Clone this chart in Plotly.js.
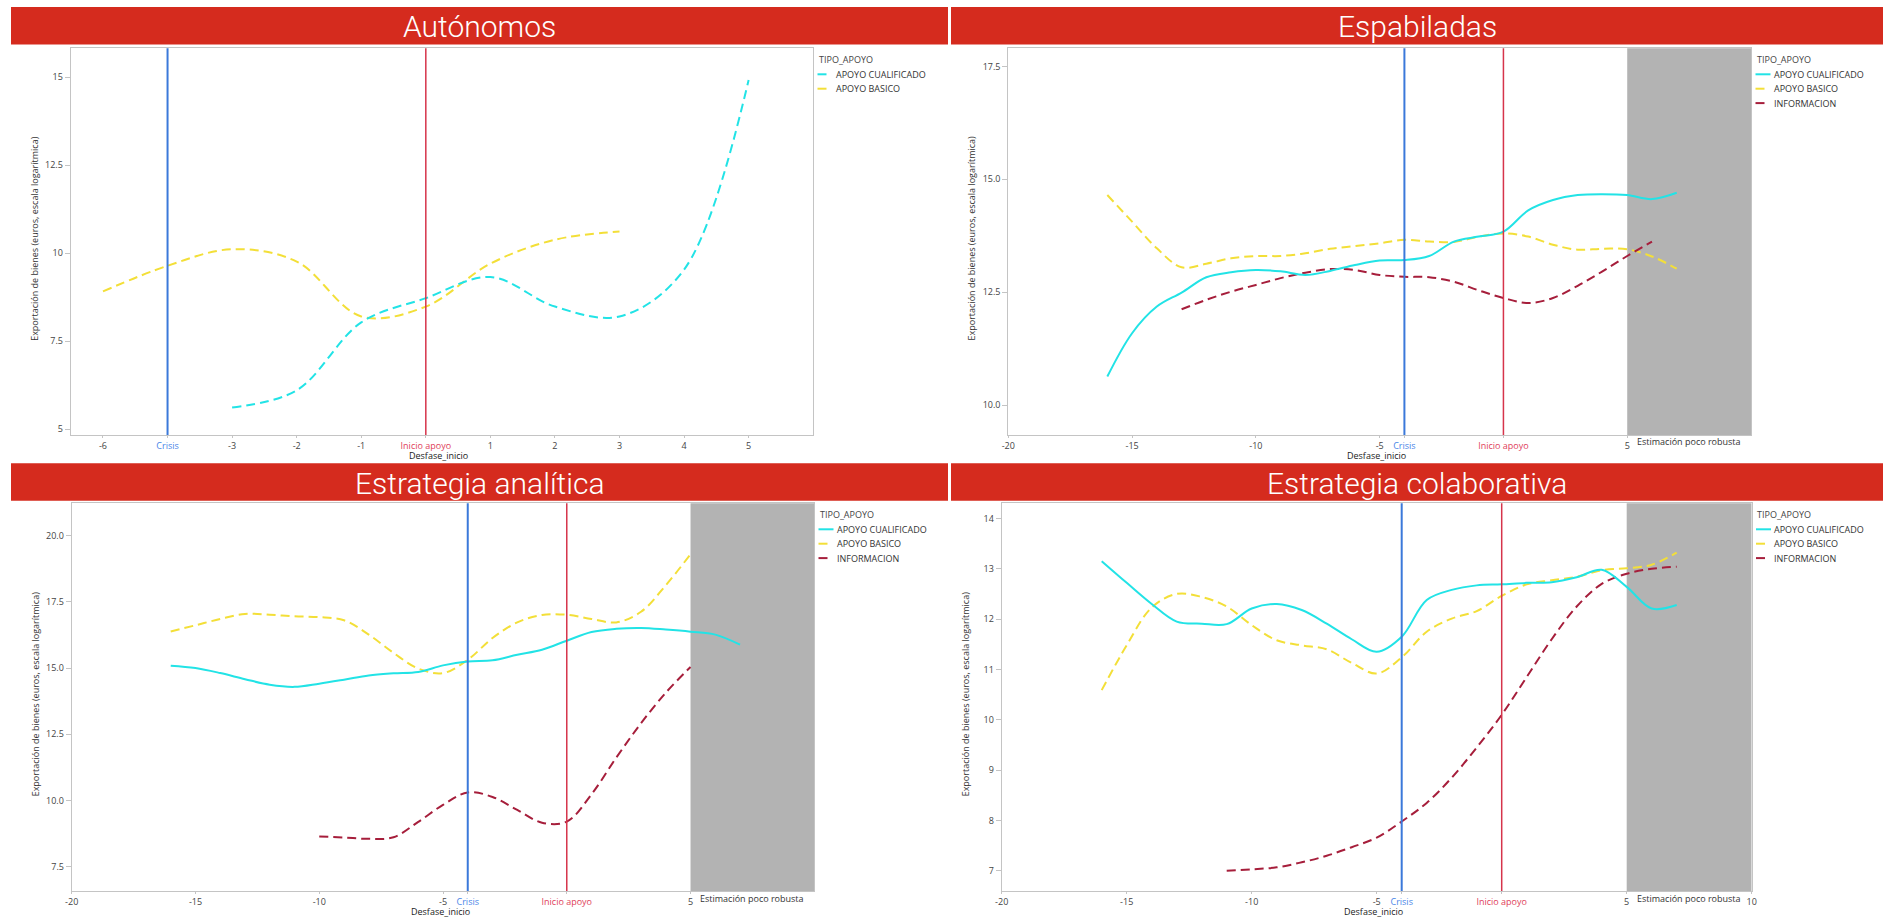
<!DOCTYPE html>
<html>
<head>
<meta charset="utf-8">
<script src="https://cdn.plot.ly/plotly-3.0.1.min.js"></script>
<style>
html,body{margin:0;padding:0;background:#fff;}
#chart{width:1883px;height:918px;}
</style>
</head>
<body>
<div id="chart"></div>
<script>
// ---------------- DATA ----------------
const series_names = ['APOYO CUALIFICADO', 'APOYO BASICO', 'INFORMACION'];
const crisis_desfase = -4;
const inicio_desfase = 0;
const robust_from = 5;
const robust_to = 10;

// Autónomos (categorical axis)
const auto_desfase = [-6, -4, -3, -2, -1, 0, 1, 2, 3, 4, 5];
const auto_ticklabels = ['-6', 'Crisis', '-3', '-2', '-1', 'Inicio apoyo', '1', '2', '3', '4', '5'];
const auto_cualificado = [null, null, 5.61, 6.10, 8.03, 8.72, 9.32, 8.48, 8.20, 9.53, 14.92];
const auto_basico = [8.91, 9.64, 10.11, 9.76, 8.20, 8.48, 9.70, 10.38, 10.61, null, null];

// Espabiladas
const esp_desfase = [-16, -15, -14, -13, -12, -11, -10, -9, -8, -7, -6, -5, -4, -3, -2, -1, 0, 1, 2, 3, 4, 5, 6, 7];
const esp_cualificado = [10.63, 11.59, 12.18, 12.49, 12.83, 12.94, 12.99, 12.96, 12.88, 12.97, 13.10, 13.20, 13.21, 13.30, 13.62, 13.73, 13.84, 14.31, 14.54, 14.65, 14.67, 14.65, 14.56, 14.70];
const esp_basico = [14.65, 14.06, 13.47, 13.05, 13.13, 13.25, 13.30, 13.30, 13.36, 13.46, 13.52, 13.58, 13.66, 13.62, 13.61, 13.73, 13.80, 13.73, 13.55, 13.44, 13.46, 13.45, 13.29, 13.02];
const esp_informacion = [null, null, null, 12.12, 12.33, 12.51, 12.66, 12.81, 12.93, 13.01, 12.99, 12.88, 12.84, 12.83, 12.73, 12.54, 12.37, 12.26, 12.37, 12.64, 12.96, 13.30, 13.62, null];

// Estrategia analítica
const ana_desfase = [-16, -15, -14, -13, -12, -11, -10, -9, -8, -7, -6, -5, -4, -3, -2, -1, 0, 1, 2, 3, 4, 5, 6, 7];
const ana_cualificado = [15.09, 15.00, 14.81, 14.58, 14.37, 14.29, 14.41, 14.56, 14.72, 14.80, 14.85, 15.10, 15.25, 15.29, 15.50, 15.69, 16.03, 16.36, 16.48, 16.51, 16.45, 16.37, 16.26, 15.88];
const ana_basico = [16.38, 16.61, 16.85, 17.04, 17.01, 16.95, 16.92, 16.80, 16.26, 15.57, 14.98, 14.81, 15.31, 16.13, 16.72, 17.00, 17.01, 16.85, 16.72, 17.12, 18.12, 19.29, null, null];
const ana_informacion = [null, null, null, null, null, null, 8.65, 8.61, 8.56, 8.62, 9.20, 9.84, 10.31, 10.14, 9.65, 9.17, 9.21, 10.24, 11.62, 12.92, 14.07, 15.04, null, null];

// Estrategia colaborativa
const col_desfase = [-16, -15, -14, -13, -12, -11, -10, -9, -8, -7, -6, -5, -4, -3, -2, -1, 0, 1, 2, 3, 4, 5, 6, 7];
const col_cualificado = [13.15, 12.72, 12.30, 11.95, 11.91, 11.90, 12.21, 12.30, 12.18, 11.91, 11.60, 11.35, 11.65, 12.38, 12.58, 12.67, 12.69, 12.72, 12.73, 12.83, 12.98, 12.64, 12.21, 12.28];
const col_basico = [10.59, 11.48, 12.23, 12.50, 12.44, 12.25, 11.88, 11.58, 11.48, 11.40, 11.13, 10.92, 11.24, 11.75, 12.01, 12.16, 12.46, 12.69, 12.77, 12.84, 12.97, 13.01, 13.08, 13.32];
const col_informacion = [null, null, null, null, null, 7.00, 7.03, 7.07, 7.17, 7.30, 7.47, 7.66, 7.98, 8.35, 8.85, 9.45, 10.10, 10.85, 11.60, 12.25, 12.70, 12.90, 13.00, 13.04];

// Tick labels for the linear axes
const lin_tickvals = [-20, -15, -10, -5, -4, 0, 5];
const lin_ticklabels = ['-20', '-15', '-10', '-5', 'Crisis', 'Inicio apoyo', '5'];
const col_tickvals = [-20, -15, -10, -5, -4, 0, 5, 10];
const col_ticklabels = ['-20', '-15', '-10', '-5', 'Crisis', 'Inicio apoyo', '5', '10'];

const panel_titles = ['Autónomos', 'Espabiladas', 'Estrategia analítica', 'Estrategia colaborativa'];

// ---------------- STYLE ----------------
const W = 1883, H = 918;
const FONT = 'Open Sans, Noto Sans, sans-serif';
const C_CYAN = '#22E3E6', C_YELLOW = '#F3DF38', C_DRED = '#A61E3B';
const C_BLUE = '#3B79DA', C_RED = '#D6344B';
const C_BLUE_T = '#4A86E8', C_RED_T = '#E0405A';
const BAR_RED = '#D52B1E';
const AX_GRAY = '#C4C4C4';
const DASH = '9px,5px';

const pxX = v => v / W;
const pxY = v => 1 - v / H;

function colorLabel(t) {
  if (t === 'Crisis') return '<span style="color:' + C_BLUE_T + '">' + t + '</span>';
  if (t === 'Inicio apoyo') return '<span style="color:' + C_RED_T + '">' + t + '</span>';
  return t;
}

// panel geometry (pixels)
const P = [
  {x: [70.7, 813.2], y: [48.3, 435], xr: [-0.5, 11], yr: [4.83, 15.82], dtick: 2.5, fmt: '', bar: [11, 948, 7, 44.5]},
  {x: [1008.3, 1751], y: [48.3, 435], xr: [-20, 10], yr: [9.336, 17.9], dtick: 2.5, fmt: '.1f', bar: [951, 1883, 7, 44.5]},
  {x: [71.7, 814.3], y: [503.3, 891], xr: [-20, 10], yr: [6.594, 21.21], dtick: 2.5, fmt: '.1f', bar: [11, 948, 463.3, 500.7]},
  {x: [1001.7, 1751.7], y: [503.3, 891], xr: [-20, 10], yr: [6.60, 14.30], dtick: 1, fmt: '', bar: [951, 1883, 463.3, 500.7]}
];

const auto_index = auto_desfase.map((d, i) => i);

function tr(x, y, color, dash, ax) {
  return {
    x: x, y: y, type: 'scatter', mode: 'lines',
    line: {color: color, width: 2, dash: dash, shape: 'spline', smoothing: 1},
    xaxis: 'x' + ax, yaxis: 'y' + ax, showlegend: false, hoverinfo: 'skip', connectgaps: false
  };
}

const data = [
  tr(auto_index, auto_basico, C_YELLOW, DASH, ''),
  tr(auto_index, auto_cualificado, C_CYAN, DASH, ''),
  tr(esp_desfase, esp_basico, C_YELLOW, DASH, '2'),
  tr(esp_desfase, esp_informacion, C_DRED, DASH, '2'),
  tr(esp_desfase, esp_cualificado, C_CYAN, 'solid', '2'),
  tr(ana_desfase, ana_basico, C_YELLOW, DASH, '3'),
  tr(ana_desfase, ana_informacion, C_DRED, DASH, '3'),
  tr(ana_desfase, ana_cualificado, C_CYAN, 'solid', '3'),
  tr(col_desfase, col_basico, C_YELLOW, DASH, '4'),
  tr(col_desfase, col_informacion, C_DRED, DASH, '4'),
  tr(col_desfase, col_cualificado, C_CYAN, 'solid', '4')
];

const layout = {
  width: W, height: H,
  margin: {l: 0, r: 0, t: 0, b: 0, pad: 0},
  paper_bgcolor: '#ffffff', plot_bgcolor: '#ffffff',
  showlegend: false,
  font: {family: FONT, size: 9, color: '#444'},
  shapes: [], annotations: []
};

const tickvalsList = [auto_index, lin_tickvals, lin_tickvals, col_tickvals];
const ticktextList = [auto_ticklabels, lin_ticklabels, lin_ticklabels, col_ticklabels];

P.forEach((p, i) => {
  const k = i === 0 ? '' : String(i + 1);
  layout['xaxis' + k] = {
    domain: [pxX(p.x[0]), pxX(p.x[1])], range: p.xr, anchor: 'y' + k,
    showline: true, mirror: true, linecolor: AX_GRAY, linewidth: 1,
    showgrid: false, zeroline: false, ticks: 'outside', ticklen: 2, tickcolor: AX_GRAY,
    tickmode: 'array', tickvals: tickvalsList[i], ticktext: ticktextList[i].map(colorLabel),
    tickfont: {family: FONT, size: 9, color: '#444'}, fixedrange: true
  };
  layout['yaxis' + k] = {
    domain: [pxY(p.y[1]), pxY(p.y[0])], range: p.yr, anchor: 'x' + k,
    showline: true, mirror: true, linecolor: AX_GRAY, linewidth: 1,
    showgrid: false, zeroline: false, ticks: 'outside', ticklen: 5, tickcolor: AX_GRAY,
    tick0: 0, dtick: p.dtick, tickformat: p.fmt,
    tickfont: {family: FONT, size: 9, color: '#444'}, fixedrange: true
  };
  // title bar
  layout.shapes.push({type: 'rect', xref: 'paper', yref: 'paper',
    x0: pxX(p.bar[0]), x1: pxX(p.bar[1]), y0: pxY(p.bar[3]), y1: pxY(p.bar[2]),
    fillcolor: BAR_RED, line: {width: 0}, layer: 'below'});
  layout.annotations.push({xref: 'paper', yref: 'paper', showarrow: false,
    x: pxX((p.bar[0] + p.bar[1]) / 2), y: pxY((p.bar[2] + p.bar[3]) / 2 + 1),
    xanchor: 'center', yanchor: 'middle', text: panel_titles[i],
    font: {family: 'Roboto, sans-serif', size: 30, color: '#ffffff', weight: 300}});
  // axis titles
  layout.annotations.push({xref: 'paper', yref: 'paper', showarrow: false,
    x: pxX(p.x[0] - 36.5), y: pxY((p.y[0] + p.y[1]) / 2 - 3), textangle: -90,
    xanchor: 'center', yanchor: 'middle', text: 'Exportación de bienes (euros, escala logarítmica)',
    font: {family: FONT, size: 9, color: '#333'}});
  layout.annotations.push({xref: 'paper', yref: 'paper', showarrow: false,
    x: pxX((p.x[0] + p.x[1]) / 2 - 3), y: pxY(p.y[1] + 20.5), borderpad: 0,
    xanchor: 'center', yanchor: 'middle', text: 'Desfase_inicio',
    font: {family: FONT, size: 9, color: '#222'}});
  // reference lines
  const cx = i === 0 ? auto_desfase.indexOf(crisis_desfase) : crisis_desfase;
  const ix = i === 0 ? auto_desfase.indexOf(inicio_desfase) : inicio_desfase;
  layout.shapes.push({type: 'line', xref: 'x' + k, yref: 'y' + k + ' domain', x0: cx, x1: cx, y0: 0, y1: 1,
    line: {color: C_BLUE, width: 2}});
  layout.shapes.push({type: 'line', xref: 'x' + k, yref: 'y' + k + ' domain', x0: ix, x1: ix, y0: 0, y1: 1,
    line: {color: C_RED, width: 1.5}});
  if (i > 0) {
    layout.shapes.push({type: 'rect', xref: 'x' + k, yref: 'y' + k + ' domain', x0: robust_from, x1: robust_to, y0: 0, y1: 1,
      fillcolor: '#B3B3B3', line: {width: 0}, layer: 'below'});
    layout.annotations.push({xref: 'x' + k, yref: 'paper', showarrow: false,
      x: (robust_from + robust_to) / 2, y: pxY(p.y[1] + 7),
      xanchor: 'center', yanchor: 'middle', text: 'Estimación poco robusta',
      font: {family: FONT, size: 9, color: '#333'}});
  }
});

// legends
function legend(L, T, items) {
  layout.annotations.push({xref: 'paper', yref: 'paper', showarrow: false, x: pxX(L - 1), y: pxY(T),
    xanchor: 'left', yanchor: 'middle', text: 'TIPO_APOYO', font: {family: FONT, size: 9, color: '#444'}});
  items.forEach((it, j) => {
    const yy = T + 15.3 + j * 14.4;
    layout.shapes.push({type: 'line', xref: 'paper', yref: 'paper',
      x0: pxX(L), x1: pxX(L + 15), y0: pxY(yy), y1: pxY(yy),
      line: {color: it[1], width: 2, dash: it[2]}});
    layout.annotations.push({xref: 'paper', yref: 'paper', showarrow: false, x: pxX(L + 16), y: pxY(yy),
      xanchor: 'left', yanchor: 'middle', text: it[0], font: {family: FONT, size: 9, color: '#333'}});
  });
}
const LDASH = '9px,6px';
legend(817.5, 59, [[series_names[0], C_CYAN, LDASH], [series_names[1], C_YELLOW, LDASH]]);
legend(1755.5, 59, [[series_names[0], C_CYAN, 'solid'], [series_names[1], C_YELLOW, LDASH], [series_names[2], C_DRED, LDASH]]);
legend(818.5, 514, [[series_names[0], C_CYAN, 'solid'], [series_names[1], C_YELLOW, LDASH], [series_names[2], C_DRED, LDASH]]);
legend(1756, 514, [[series_names[0], C_CYAN, 'solid'], [series_names[1], C_YELLOW, LDASH], [series_names[2], C_DRED, LDASH]]);

Plotly.newPlot('chart', data, layout, {displayModeBar: false, staticPlot: true});
</script>
</body>
</html>
